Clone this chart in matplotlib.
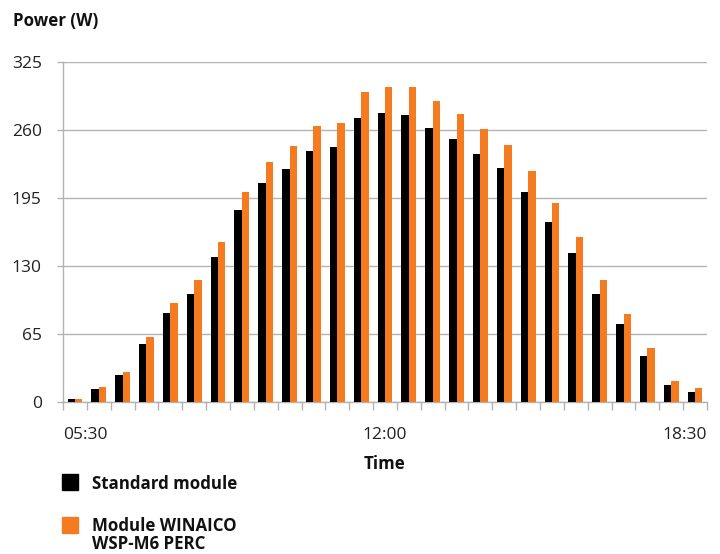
import matplotlib
matplotlib.use("Agg")
import matplotlib.pyplot as plt
import matplotlib.patches as mpatches
import matplotlib.transforms as mtransforms
import numpy as np

plt.rcParams['font.family'] = ['Open Sans', 'DejaVu Sans']

times = ["05:30", "06:00", "06:30", "07:00", "07:30", "08:00", "08:30", "09:00", "09:30",
         "10:00", "10:30", "11:00", "11:30", "12:00", "12:30", "13:00", "13:30", "14:00",
         "14:30", "15:00", "15:30", "16:00", "16:30", "17:00", "17:30", "18:00", "18:30"]
standard = [3, 12, 26, 55, 85, 103, 139, 184, 209, 223, 240, 244, 271, 276,
            274, 262, 251, 237, 224, 201, 172, 142, 103, 75, 44, 16, 10]
winaico = [3, 14, 29, 62, 95, 117, 153, 201, 229, 245, 264, 267, 296, 301,
           301, 288, 275, 261, 246, 221, 190, 158, 117, 84, 52, 20, 13]
shown_labels = {0: "05:30", 13: "12:00", 26: "18:30"}
yticks = [0, 65, 130, 195, 260, 325]

W, H = 720, 554
fig = plt.figure(figsize=(W / 100, H / 100), dpi=100)
ax = fig.add_axes([63 / W, (H - 402) / H, (707 - 63) / W, (402 - 62) / H])

x = np.arange(len(times))
bw = 0.31
ax.bar(x - bw / 2, standard, width=bw, color="#000000", zorder=3, linewidth=0)
ax.bar(x + bw / 2, winaico, width=bw, color="#F47B20", zorder=3, linewidth=0)

ax.set_xlim(-0.5, len(times) - 0.5)
ax.set_ylim(0, 325)

grid_c = "#b3b3b3"
tick_fs = 12.5
bold_fs = 12.2
ax.set_yticks(yticks)
ax.set_yticklabels([str(v) for v in yticks], fontsize=tick_fs, color="#222222")
ax.yaxis.grid(True, color=grid_c, linewidth=1.0, zorder=0)
ax.set_axisbelow(True)
ax.tick_params(axis='y', length=4.3, width=1.0, color=grid_c, pad=11)

ax.set_xticks(np.arange(-0.5, len(times), 1.0))
ax.set_xticklabels([])
ax.tick_params(axis='x', length=5.8, width=1.0, color=grid_c)

for s in ["top", "right"]:
    ax.spines[s].set_visible(False)
for s in ["left", "bottom"]:
    ax.spines[s].set_color(grid_c)
    ax.spines[s].set_linewidth(1.0)

trans = mtransforms.blended_transform_factory(ax.transData, fig.transFigure)
ylab = (H - 435) / H
for i, lab in shown_labels.items():
    if i == 0:
        xp, ha = -0.5, "left"
    elif i == len(times) - 1:
        xp, ha = len(times) - 0.5, "right"
    else:
        xp, ha = i, "center"
    ax.text(xp, ylab, lab, transform=trans, ha=ha, va="center", fontsize=tick_fs,
            color="#222222")

fig.text(385 / W, (H - 464) / H, "Time", ha="center", va="center",
         fontsize=bold_fs, fontweight="bold", color="#111111")
fig.text(13 / W, (H - 21) / H, "Power (W)", ha="left", va="center",
         fontsize=bold_fs, fontweight="bold", color="#111111")

# legend
fig.patches.append(mpatches.Rectangle((62 / W, (H - 490) / H), 15.5 / W, 16 / H,
                                      transform=fig.transFigure, color="#000000"))
fig.patches.append(mpatches.Rectangle((62 / W, (H - 533) / H), 15.5 / W, 16 / H,
                                      transform=fig.transFigure, color="#F47B20"))
fig.text(92 / W, (H - 484) / H, "Standard module", ha="left", va="center",
         fontsize=bold_fs, fontweight="bold", color="#111111")
fig.text(92 / W, (H - 535) / H, "Module WINAICO\nWSP-M6 PERC", ha="left", va="center",
         fontsize=bold_fs, fontweight="bold", color="#111111", linespacing=1.05)

fig.savefig("out.png", dpi=100)
